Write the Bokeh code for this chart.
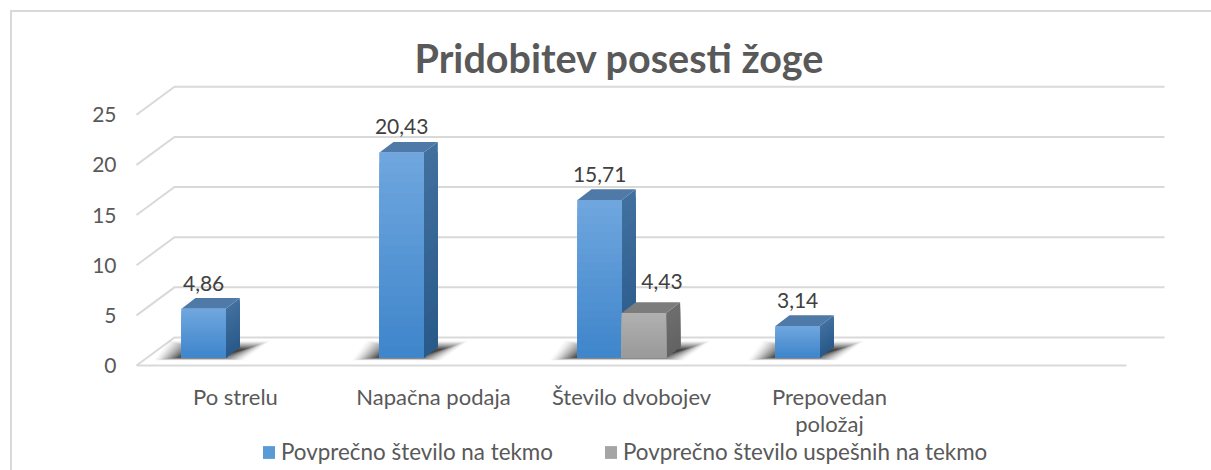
from bokeh.plotting import figure
from bokeh.models import Range1d, FixedTicker, Legend, LegendItem, ColumnDataSource, Title, LinearAxis
from bokeh.core.properties import value
from bokeh.embed import file_html
from bokeh.resources import INLINE

title_text = "Pridobitev posesti žoge"
categories = ["Po strelu", "Napačna podaja", "Število dvobojev", "Prepovedan", ""]
categories_line2 = ["", "", "", "položaj", ""]
series_names = ["Povprečno število na tekmo", "Povprečno število uspešnih na tekmo"]
series_a = [4.86, 20.43, 15.71, 3.14, None]
series_b = [None, None, 4.43, None, None]
y_ticks = [0, 5, 10, 15, 20, 25]

FONT = "Lato"
W, H = 1211, 470
CAT_PX, UNIT_PX = 198.0, 10.03
PAGE_X0, PAGE_Y0 = 235.0, 365.0   # page position of category 0 / value 0
FL, FR, FT, FB = 130.0, 1170.0, 80.0, 470.0  # frame on the page
AXIS_Y = 375.0                     # page row the category axis is pinned to
LINE2_DY = 27.0

def px_x(n): return n / CAT_PX
def px_y(n): return n / UNIT_PX

x_range = Range1d((FL - PAGE_X0) / CAT_PX, (FR - PAGE_X0) / CAT_PX)
y_range = Range1d((PAGE_Y0 - FB) / UNIT_PX, (PAGE_Y0 - FT) / UNIT_PX)

p = figure(width=W, height=H, x_range=x_range, y_range=y_range, output_backend="svg",
           toolbar_location=None, min_border_left=int(FL), min_border_right=int(W - FR),
           min_border_top=int(FT), min_border_bottom=0, outline_line_color=None,
           border_fill_alpha=0, background_fill_alpha=0,
           styles={"background-image": "linear-gradient(#d9d9d9,#d9d9d9),linear-gradient(#d9d9d9,#d9d9d9)",
                   "background-repeat": "no-repeat",
                   "background-size": "2px 460px,1201px 2px",
                   "background-position": "10px 10px,10px 10px"})
p.grid.visible = False

TXT = "#595959"
p.yaxis.ticker = FixedTicker(ticks=y_ticks)
p.yaxis.axis_line_color = None
p.yaxis.major_tick_line_color = None
p.yaxis.minor_tick_line_color = None
p.yaxis.major_label_standoff = 8
p.yaxis.major_label_text_font = FONT
p.yaxis.major_label_text_font_size = "21px"
p.yaxis.major_label_text_color = TXT

def style_cat_axis(ax, labels, page_y):
    ax.ticker = FixedTicker(ticks=list(range(len(labels))))
    ax.major_label_overrides = {i: c for i, c in enumerate(labels)}
    ax.fixed_location = (PAGE_Y0 - page_y) / UNIT_PX
    ax.axis_line_color = None
    ax.major_tick_line_color = None
    ax.minor_tick_line_color = None
    ax.major_label_standoff = 1
    ax.major_label_text_font = FONT
    ax.major_label_text_font_size = "22px"
    ax.major_label_text_color = TXT

style_cat_axis(p.xaxis[0], categories, AXIS_Y)
second_line = LinearAxis()
style_cat_axis(second_line, categories_line2, AXIS_Y + LINE2_DY)
p.add_layout(second_line, "below")

x_left = -0.5
x_right = len(categories) - 0.5
gdx, gdy = px_x(38), px_y(28)
gx, gy = [], []
for t in y_ticks:
    gx.append([x_left, x_left + gdx, x_right + gdx])
    gy.append([t, t + gdy, t + gdy])
gx.append([x_left, x_right])
gy.append([0, 0])
p.multi_line(gx, gy, line_color="#d9d9d9", line_width=2, line_join="miter")

bar_w = px_x(44.3)
bar_off = px_x(-54)
base = px_y(8)
bdx, bdy = px_x(14), px_y(10.7)
STEPS = 20

def mix(a, b, t):
    ca = [int(a[i:i + 2], 16) for i in (1, 3, 5)]
    cb = [int(b[i:i + 2], 16) for i in (1, 3, 5)]
    return "#%02x%02x%02x" % tuple(round(u + (v - u) * t) for u, v in zip(ca, cb))

for i in range(len(categories)):
    vals = [(k, s[i]) for k, s in enumerate((series_a, series_b)) if s[i] is not None]
    if not vals:
        continue
    L = i + bar_off + vals[0][0] * bar_w
    R = i + bar_off + (vals[-1][0] + 1) * bar_w
    LAY = 20
    for lay in range(LAY):
        t = lay / (LAY - 1)
        ins = t * 26
        p.patch([L + px_x(-28 + ins), L + px_x(-13 + ins), R + px_x(45 - ins), R + px_x(18 - ins)],
                [base - px_y(3 - t * 3), base + px_y(17 - t * 9), base + px_y(17 - t * 9), base - px_y(3 - t * 3)],
                fill_color="black", fill_alpha=0.015 + 0.09 * t, line_color=None)

styles = [
    dict(top="#6fa6de", bottom="#3f86cb", mid="#5b9bd5", s_top="#41709f", s_bottom="#2a5a8a", cap="#4f79a6", lab=0, lab_y=15),
    dict(top="#b0b0b0", bottom="#9a9a9a", mid="#a5a5a5", s_top="#6e6e6e", s_bottom="#636363", cap="#7c7c7c", lab=18, lab_y=21),
]
legend_items = []
for k, (name, vals, st) in enumerate(zip(series_names, (series_a, series_b), styles)):
    xs = [i + bar_off + k * bar_w for i, v in enumerate(vals) if v is not None]
    vs = [v for v in vals if v is not None]
    for x0, v in zip(xs, vs):
        x1 = x0 + bar_w
        for s in range(STEPS):
            f = 1 - s / STEPS
            p.patch([x1, x1 + bdx, x1 + bdx, x1],
                    [base, base + bdy, base + v * f + bdy, base + v * f],
                    fill_color=mix(st["s_top"], st["s_bottom"], s / (STEPS - 1)), line_color=None)
        p.patch([x0, x1, x1 + bdx, x0 + bdx],
                [base + v, base + v, base + v + bdy, base + v + bdy],
                fill_color=st["cap"], line_color=None)
    src = ColumnDataSource(dict(x=[x + bar_w / 2 for x in xs], top=[base + v for v in vs]))
    r = p.vbar(x="x", top="top", bottom=base, width=bar_w, source=src, fill_color=st["mid"], line_color=None)
    legend_items.append(LegendItem(label=name, renderers=[r]))
    for x0, v in zip(xs, vs):
        for s in range(STEPS):
            f = 1 - s / STEPS
            p.vbar(x=[x0 + bar_w / 2], top=[base + v * f], bottom=base, width=bar_w,
                   fill_color=mix(st["top"], st["bottom"], s / (STEPS - 1)), line_color=None)
    p.text([x + bar_w / 2 + px_x(st["lab"]) for x in xs],
           [base + v + bdy + px_y(st["lab_y"]) for v in vs],
           text=[f"{v:.2f}".replace(".", ",") for v in vs],
           text_font=value(FONT), text_font_size="21px", text_color="#404040",
           text_align="center", text_baseline="alphabetic")

legend = Legend(items=legend_items, orientation="horizontal", location=(261 - FL, 5),
                background_fill_alpha=0, border_line_color=None, padding=0, margin=0, spacing=50,
                glyph_width=15, glyph_height=16, label_standoff=5,
                label_text_font=FONT, label_text_font_size="22.4px", label_text_color=TXT,
                label_height=20)
p.add_layout(legend, "center")

p.title = Title(text=title_text, align="left", text_font=FONT, text_font_size="39.5px",
                text_font_style="bold", text_color=TXT, offset=414 - FL, standoff=0)

open("out.html", "w").write(file_html(p, INLINE))
